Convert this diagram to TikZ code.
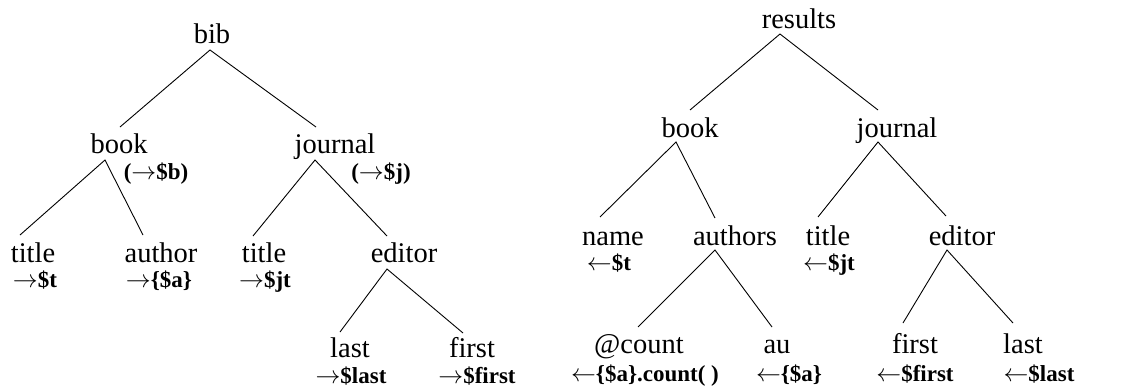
\documentclass[tikz,border=0pt]{standalone}
\usepackage{fontspec}
\setmainfont{Liberation Serif}
\newcommand{\toR}{$\rightarrow$}
\newcommand{\toL}{$\leftarrow$}
\tikzset{
  elem/.style={inner sep=0pt, anchor=base, font=\fontsize{28.5}{28.5}\selectfont},
  bind/.style={inner sep=0pt, anchor=base, font=\fontsize{23}{23}\selectfont\bfseries},
  edge/.style={line width=0.9pt, black}
}
\begin{document}
\begin{tikzpicture}[x=1pt, y=-1pt]
\useasboundingbox (0,0) rectangle (1122,389);

% ---------- input tree: bib ----------
\node[elem] (bib) at (212,43) {bib};
\node[elem] (book) at (119,153) {book};
\node[elem] (journal) at (335,153) {journal};
\node[bind] (bookv) at (156,179) {(\toR\$b)};
\node[bind] (journalv) at (381,179) {(\toR\$j)};
\node[elem] (btitle) at (33,262) {title};
\node[bind] (btitlev) at (35,287) {\toR\$t};
\node[elem] (bauthor) at (161,262) {author};
\node[bind] (bauthorv) at (159,287) {\toR\{\$a\}};
\node[elem] (jtitle) at (264,262) {title};
\node[bind] (jtitlev) at (265,287) {\toR\$jt};
\node[elem] (jeditor) at (404,262) {editor};
\node[elem] (jlast) at (350,357) {last};
\node[bind] (jlastv) at (351,383) {\toR\$last};
\node[elem] (jfirst) at (472,357) {first};
\node[bind] (jfirstv) at (477,383) {\toR\$first};

% branching points and edge ends
\coordinate (bib-a) at (210,50);
\coordinate (book-e) at (120,127);
\coordinate (journal-e) at (316,127);
\coordinate (book-a) at (105,160);
\coordinate (btitle-e) at (20,235);
\coordinate (bauthor-e) at (143,235);
\coordinate (journal-a) at (315,160);
\coordinate (jtitle-e) at (253,236);
\coordinate (jeditor-e) at (387,236);
\coordinate (jeditor-a) at (387,269);
\coordinate (jlast-e) at (340,332);
\coordinate (jfirst-e) at (463,333);

\draw[edge] (book-e) -- (bib-a) -- (journal-e);
\draw[edge] (btitle-e) -- (book-a) -- (bauthor-e);
\draw[edge] (jtitle-e) -- (journal-a) -- (jeditor-e);
\draw[edge] (jlast-e) -- (jeditor-a) -- (jfirst-e);

% ---------- output tree: results ----------
\node[elem] (res) at (799,28) {results};
\node[elem] (rbook) at (690,137) {book};
\node[elem] (rjournal) at (897,137) {journal};
\node[elem] (rname) at (613,245) {name};
\node[bind] (rnamev) at (609,270) {\toL\$t};
\node[elem] (rauthors) at (735,245) {authors};
\node[elem] (rtitle) at (828,245) {title};
\node[bind] (rtitlev) at (829,270) {\toL\$jt};
\node[elem] (reditor) at (962,245) {editor};
\node[elem] (rcount) at (639,353) {@count};
\node[bind] (rcountv) at (645,381) {\toL\{\$a\}.count( )};
\node[elem] (rau) at (777,353) {au};
\node[bind] (rauv) at (789,381) {\toL\{\$a\}};
\node[elem] (rfirst) at (915,353) {first};
\node[bind] (rfirstv) at (915,381) {\toL\$first};
\node[elem] (rlast) at (1023,353) {last};
\node[bind] (rlastv) at (1039,381) {\toL\$last};

\coordinate (res-a) at (780,34);
\coordinate (rbook-e) at (690,110);
\coordinate (rjournal-e) at (878,110);
\coordinate (rbook-a) at (676,142);
\coordinate (rname-e) at (600,217);
\coordinate (rauthors-e) at (715,218);
\coordinate (rjournal-a) at (878,142);
\coordinate (rtitle-e) at (818,217);
\coordinate (reditor-e) at (946,216);
\coordinate (rauthors-a) at (715,250);
\coordinate (rcount-e) at (638,327);
\coordinate (rau-e) at (772,327);
\coordinate (reditor-a) at (947,250);
\coordinate (rfirst-e) at (903,323);
\coordinate (rlast-e) at (1013,323);

\draw[edge] (rbook-e) -- (res-a) -- (rjournal-e);
\draw[edge] (rname-e) -- (rbook-a) -- (rauthors-e);
\draw[edge] (rtitle-e) -- (rjournal-a) -- (reditor-e);
\draw[edge] (rcount-e) -- (rauthors-a) -- (rau-e);
\draw[edge] (rfirst-e) -- (reditor-a) -- (rlast-e);
\end{tikzpicture}
\end{document}
